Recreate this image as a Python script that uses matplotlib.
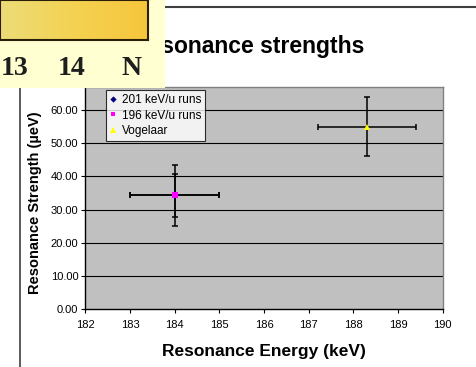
import matplotlib
matplotlib.use("Agg")
import matplotlib.pyplot as plt
import numpy as np
from matplotlib.patches import Rectangle
from matplotlib.lines import Line2D
from matplotlib.colors import LinearSegmentedColormap

plt.rcParams['font.family'] = ['Liberation Sans', 'DejaVu Sans']

# ---- data ----
series_labels = ["201 keV/u runs", "196 keV/u runs", "Vogelaar"]
energy = [184.0, 184.0, 188.3]
strength = [34.3, 34.3, 55.0]
energy_err = [1.0, 1.0, 1.1]
strength_err = [6.5, 9.3, 8.9]
colors = ["#000080", "#FF00FF", "#FFFF00"]
markers = ["D", "s", "^"]
xticks = [182, 183, 184, 185, 186, 187, 188, 189, 190]
yticks = [0, 10, 20, 30, 40, 50, 60]

W, H = 476, 367
fig = plt.figure(figsize=(W / 100, H / 100), dpi=100)
fig.patch.set_facecolor("white")

x0, x1, y0, y1 = 85.3, 442.7, 87, 309
ax = fig.add_axes([x0 / W, 1 - y1 / H, (x1 - x0) / W, (y1 - y0) / H])
ax.set_facecolor("#C0C0C0")
ax.set_xlim(182, 190)
ax.set_ylim(0, 67)
ax.set_xticks(xticks)
ax.set_yticks(yticks)
ax.set_xticklabels([str(t) for t in xticks], fontsize=8)
ax.set_yticklabels([f"{t:.2f}" for t in yticks], fontsize=8)
ax.tick_params(axis="both", direction="out", length=3, width=0.8, colors="black", pad=2)
ax.tick_params(axis="x", pad=5)
for y in yticks[1:]:
    ax.axhline(y, color="black", lw=0.8, zorder=1)
for s in ["left", "bottom"]:
    ax.spines[s].set_color("black")
    ax.spines[s].set_linewidth(1.0)
for s in ["top", "right"]:
    ax.spines[s].set_color("#808080")
    ax.spines[s].set_linewidth(1.0)

handles = []
for i in range(len(energy)):
    ax.errorbar(energy[i], strength[i], xerr=energy_err[i], yerr=strength_err[i],
                fmt="none", ecolor="black", elinewidth=1.1, capsize=2.5, capthick=1.1, zorder=3)
for i in range(len(energy)):
    h, = ax.plot(energy[i], strength[i], linestyle="none", marker=markers[i],
                 color=colors[i], markersize=4 if markers[i] != "^" else 5,
                 markeredgewidth=0, zorder=4, label=series_labels[i])
    handles.append(h)

leg = ax.legend(handles=handles, loc="upper left", bbox_to_anchor=(0.057, 0.986),
                borderaxespad=0, fontsize=8.5, frameon=True, fancybox=False,
                handlelength=0.6, handletextpad=0.4, borderpad=0.35, labelspacing=0.28,
                markerscale=0.8)
leg.get_frame().set_edgecolor("black")
leg.get_frame().set_linewidth(0.8)
leg.get_frame().set_facecolor("white")

ax.set_xlabel("Resonance Energy (keV)", fontsize=12.5, fontweight="bold", labelpad=10)
fig.text(35 / W, 1 - 203 / H, "Resonance Strength (\u00b5eV)", rotation=90,
         fontsize=10.5, fontweight="bold", ha="center", va="center")

# title (partly hidden under the overlaid clip, as in the reference)
fig.text(364 / W, 1 - 47 / H, "Resonance strengths", fontsize=16.5, fontweight="bold",
         ha="right", va="center", zorder=2)

# slide decorations
fig.add_artist(Line2D([165 / W, 1.0], [1 - 7 / H, 1 - 7 / H], color="#404040", lw=1.5))
fig.add_artist(Line2D([20 / W, 20 / W], [0, 1 - 88 / H], color="#404040", lw=1.2))

# overlaid clip
fig.add_artist(Rectangle((0, 1 - 88 / H), 165 / W, 88 / H, transform=fig.transFigure,
                         facecolor="#FFFFD2", edgecolor="none", zorder=10))
gax = fig.add_axes([0, 1 - 40 / H, 148 / W, 40 / H], zorder=11)
grad = np.linspace(0, 1, 64).reshape(1, -1)
cmap = LinearSegmentedColormap.from_list("g", ["#ECDC78", "#F4D252", "#F6C63C"])
gax.imshow(grad, aspect="auto", cmap=cmap, extent=[0, 1, 0, 1])
gax.set_xticks([])
gax.set_yticks([])
for s in gax.spines.values():
    s.set_color("#2a1e0a")
    s.set_linewidth(1.5)
for txt, xc, ha in [("13", 1, "left"), ("14", 72, "center"), ("N", 132, "center")]:
    fig.text(xc / W, 1 - 75 / H, txt, fontsize=20, fontweight="bold",
             family=["Liberation Serif", "DejaVu Serif"], color="#1e1e1e",
             ha=ha, va="baseline", zorder=12)

fig.savefig("out.png", dpi=100, facecolor="white")
